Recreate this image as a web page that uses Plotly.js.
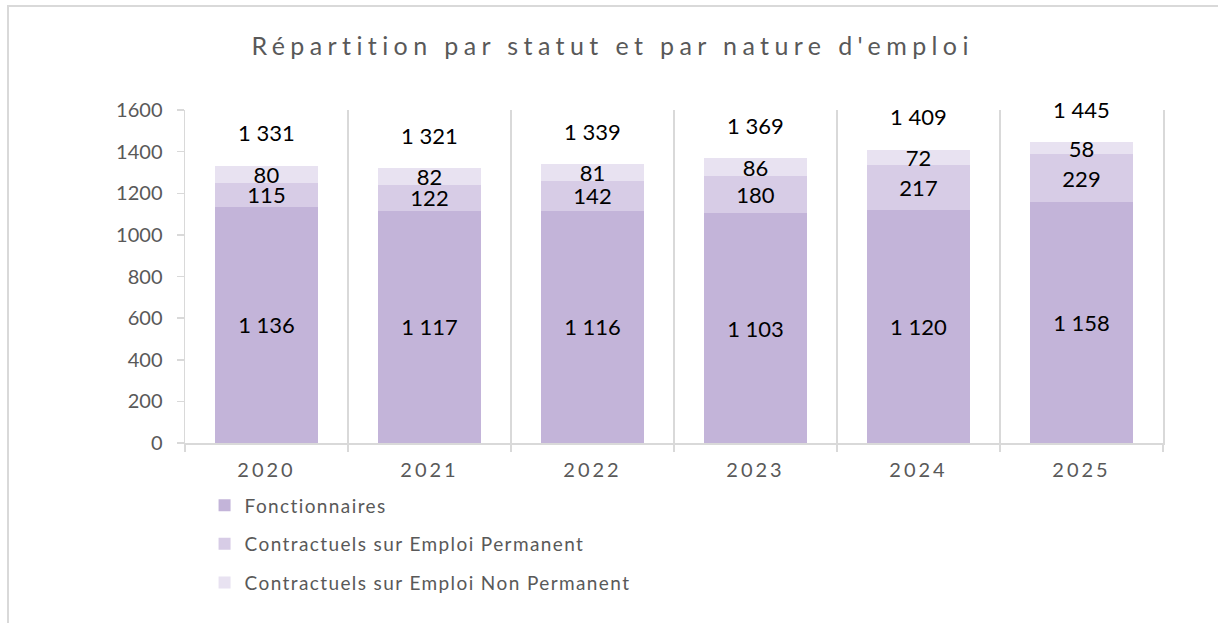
<!DOCTYPE html>
<html>
<head>
<meta charset="utf-8">
<script src="https://cdn.plot.ly/plotly-3.0.1.min.js"></script>
<style>
  html, body { margin: 0; padding: 0; background: #fff; }
  #wrap { position: relative; width: 1218px; height: 623px; }
  #chart { position: absolute; left: 0; top: 0; width: 1218px; height: 623px; }
  #frame { position: absolute; left: 7px; top: 5px; width: 1211px; height: 617px;
           border-top: 2px solid #d9d9d9; border-left: 2px solid #d9d9d9; pointer-events: none; }
  .gtitle { letter-spacing: 5.4px; }
  .xtick text { letter-spacing: 3px; }
  .legendtext { letter-spacing: 1.4px; }
</style>
</head>
<body>
<div id="wrap"><div id="chart"></div><div id="frame"></div></div>
<script>
const years = ['2020', '2021', '2022', '2023', '2024', '2025'];
const fonctionnaires = [1136, 1117, 1116, 1103, 1120, 1158];
const contractuelsPermanent = [115, 122, 142, 180, 217, 229];
const contractuelsNonPermanent = [80, 82, 81, 86, 72, 58];
const totals = [1331, 1321, 1339, 1369, 1409, 1445];
const seriesNames = ['Fonctionnaires', 'Contractuels sur Emploi Permanent', 'Contractuels sur Emploi Non Permanent'];
const seriesColors = ['#c3b4d9', '#d7cce6', '#e8e2f1'];

function fmt(v) { return String(v).replace(/\B(?=(\d{3})+(?!\d))/g, ' '); }

const font = 'Lato, "Noto Sans", sans-serif';
const seriesValues = [fonctionnaires, contractuelsPermanent, contractuelsNonPermanent];
const traces = seriesValues.map((vals, i) => ({
  type: 'bar',
  name: seriesNames[i],
  legendgroup: 'g' + i,
  x: years,
  y: vals,
  text: vals.map(fmt),
  textposition: 'inside',
  insidetextanchor: 'middle',
  textangle: 0,
  textfont: { family: font, size: 22, color: '#000' },
  marker: { color: seriesColors[i], line: { width: 0 } },
  hoverinfo: 'skip'
}));

// category axis: annotation x given as category index
const annotations = years.map((yr, i) => ({
  x: i, y: totals[i], xref: 'x', yref: 'y',
  text: fmt(totals[i]), showarrow: false, yshift: 33, yanchor: 'middle',
  font: { family: font, size: 22, color: '#000' }
}));

const layout = {
  width: 1218, height: 623,
  margin: { l: 185, r: 55, t: 110, b: 180 },
  paper_bgcolor: 'rgba(0,0,0,0)', plot_bgcolor: 'rgba(0,0,0,0)',
  title: { text: "Répartition par statut et par nature d'emploi", x: 0.503, xanchor: 'center', y: 0.925, yanchor: 'middle',
           font: { family: font, size: 25, color: '#595959' } },
  barmode: 'stack',
  bargap: 0.374,
  uniformtext: { mode: 'show', minsize: 22 },
  xaxis: {
    type: 'category', range: [-0.5, 5.5], tickson: 'boundaries', ticks: 'outside', ticklen: 7, tickcolor: '#d9d9d9', tickwidth: 1.5,
    showgrid: true, gridcolor: '#d9d9d9', gridwidth: 1.5,
    showline: true, linecolor: '#d9d9d9', linewidth: 1.5, tickangle: 0,
    tickfont: { family: font, size: 20, color: '#595959' }, ticklabelstandoff: 8
  },
  yaxis: {
    range: [0, 1600], tickvals: [0, 200, 400, 600, 800, 1000, 1200, 1400, 1600],
    ticks: 'outside', ticklen: 7, tickcolor: '#d9d9d9', tickwidth: 1.5,
    showgrid: false, zeroline: false, showline: true, mirror: true, linecolor: '#d9d9d9', linewidth: 1.5,
    tickfont: { family: font, size: 20, color: '#595959' }, ticklabelstandoff: 10
  },
  showlegend: true,
  legend: {
    orientation: 'v', traceorder: 'grouped', tracegroupgap: 11,
    x: 0.02, xanchor: 'left', y: -0.13, yanchor: 'top',
    font: { family: font, size: 19, color: '#595959' },
    itemclick: false, itemdoubleclick: false
  },
  annotations: annotations
};

Plotly.newPlot('chart', traces, layout, { displayModeBar: false, staticPlot: true });
</script>
</body>
</html>
